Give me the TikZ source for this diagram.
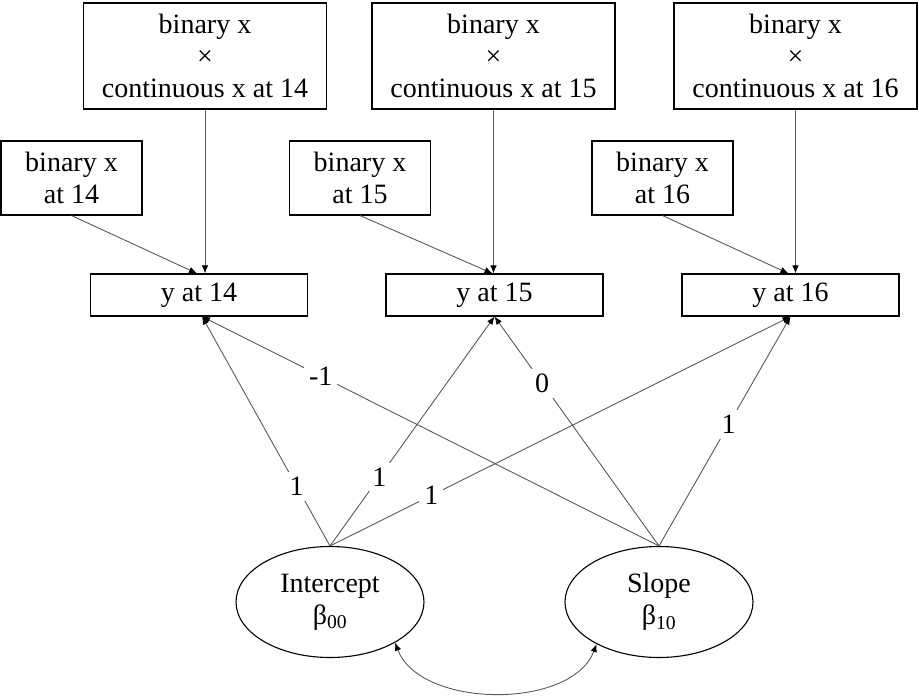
\documentclass[tikz,border=0pt]{standalone}
\usepackage{fontspec}
\setmainfont{Liberation Serif}
\usetikzlibrary{arrows.meta,shapes.geometric}
\begin{document}
\begin{tikzpicture}[x=1pt,y=1pt,
  every node/.style={font=\fontsize{28}{31.7}\selectfont},
  box/.style={draw=black,line width=1.1pt,inner sep=0pt,align=center},
  topbox/.style={box,minimum width=243pt,minimum height=106pt},
  binbox/.style={box,minimum width=141pt,minimum height=74pt},
  ybox/.style={box,minimum width=217pt,minimum height=42pt},
  latent/.style={draw=black,line width=1.1pt,ellipse,inner sep=0pt,minimum width=188pt,minimum height=111pt,align=center},
  conn/.style={draw=black!65,line width=0.9pt,-{Latex[length=8pt,width=6.5pt,color=black]}},
  lab/.style={fill=white,inner sep=5pt}]
\useasboundingbox (0,0) rectangle (919,-698);
% top interaction boxes
\node[topbox] (t1) at (205,-56) {binary x\\×\\continuous x at 14};
\node[topbox] (t2) at (493.5,-56) {binary x\\×\\continuous x at 15};
\node[topbox] (t3) at (795.5,-56) {binary x\\×\\continuous x at 16};
% binary boxes
\node[binbox] (b1) at (71.5,-178) {binary x\\at 14};
\node[binbox] (b2) at (360,-178) {binary x\\at 15};
\node[binbox] (b3) at (662.5,-178) {binary x\\at 16};
% outcome boxes
\node[ybox] (y1) at (199,-295) {y at 14};
\node[ybox] (y2) at (494.5,-295) {y at 15};
\node[ybox] (y3) at (790.5,-295) {y at 16};
% latent factors
\node[latent] (int) at (330,-602) {Intercept\\β\textsubscript{00}};
\node[latent] (slo) at (659,-602) {Slope\\β\textsubscript{10}};
% paths into y
\draw[conn] (t1.south) -- (t1.south |- y1.north);
\draw[conn] (t2.south) -- (t2.south |- y2.north);
\draw[conn] (t3.south) -- (t3.south |- y3.north);
\draw[conn] (b1.south) -- ([xshift=-2pt]y1.north);
\draw[conn] (b2.south) -- ([xshift=-2pt]y2.north);
\draw[conn] (b3.south) -- ([xshift=-2pt]y3.north);
% loadings
\draw[conn] (int.north) -- node[lab,pos=0.26] {1} ([xshift=3pt]y1.south);
\draw[conn] (int.north) -- node[lab,pos=0.3] {1} (y2.south);
\draw[conn] (int.north) -- node[lab,pos=0.22] {1} (y3.south);
\draw[conn] (slo.north) -- node[lab,pos=0.74] {-1} ([xshift=3pt]y1.south);
\draw[conn] (slo.north) -- node[lab,pos=0.71] {0} (y2.south);
\draw[conn] (slo.north) -- node[lab,pos=0.53] {1} (y3.south);
% covariance
\draw[draw=black!65,line width=0.9pt,{Latex[length=8pt,width=6.5pt,color=black]}-{Latex[length=8pt,width=6.5pt,color=black]}]
  (int.-32) .. controls +(25,-66) and +(-25,-66) .. (slo.-146);
\end{tikzpicture}
\end{document}
